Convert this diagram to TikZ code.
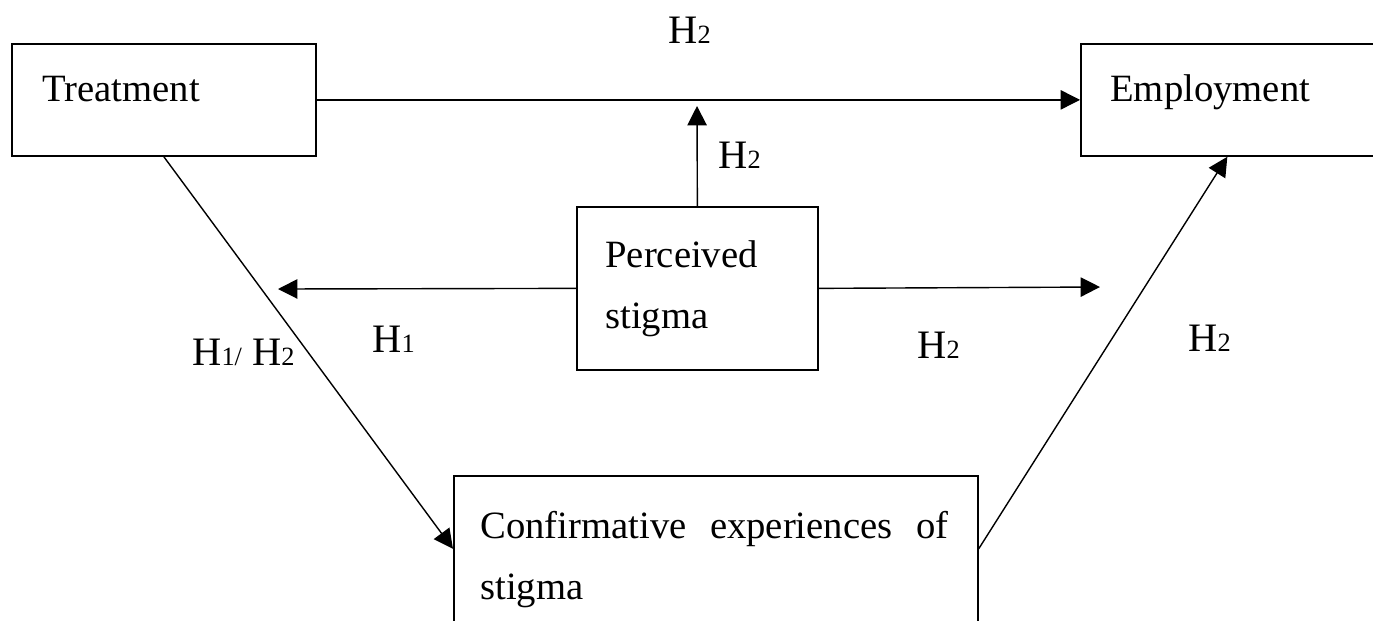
\documentclass[tikz,border=0pt]{standalone}
\usepackage{fontspec}
\setmainfont{Liberation Serif}
\usetikzlibrary{arrows.meta,positioning}
\newcommand{\hsub}[1]{{\fontsize{15}{15}\selectfont #1}}

\begin{document}
\begin{tikzpicture}[x=0.02cm,y=-0.02cm,
  box/.style={draw,line width=1pt,rectangle,anchor=north west,inner sep=0pt},
  boxtext/.style={anchor=base west,inner sep=0pt,font=\fontsize{22}{35}\selectfont,align=left},
  hyp/.style={anchor=base west,inner sep=0pt,font=\fontsize{23}{26}\selectfont},
  link/.style={line width=0.8pt,-{Triangle[length=11pt,width=11pt]}}]
\useasboundingbox (0,0) rectangle (1373,620);
\clip (0,0) rectangle (1373,620);

% boxes
\node[box,minimum width=6.08cm,minimum height=2.24cm] (treat) at (11,43) {};
\node[box,minimum width=5.86cm,minimum height=2.24cm] (emp) at (1080,43) {};
\node[box,minimum width=4.82cm,minimum height=3.26cm] (perc) at (576,206) {};
\node[box,minimum width=10.48cm,minimum height=2.92cm] (conf) at (453,475) {};

% box texts
\node[boxtext] (treattxt) at (42,101) {Treatment};
\node[boxtext] (emptxt) at (1110,101) {Employment};
\node[boxtext,text width=4cm] (perctxt) at (605,267) {Perceived\\[0pt]stigma};
\node[boxtext,text width=9.36cm] (conftxt) at (480,538) {Confirmative\hfill experiences\hfill of\\[0pt]stigma};

% free ends
\coordinate (uptip) at (697,106);
\coordinate (lefttip) at (278,289);
\coordinate (righttip) at (1100,287);

% connectors
\draw[link] (treat.east) -- (emp.west);
\draw[link] (perc.north) -- (uptip);
\draw[link] (perc.west) -- (lefttip);
\draw[link] (perc.east) -- (righttip);
\draw[link] (treat.south) -- (conf.west);
\draw[link] (conf.east) -- (emp.south);

% hypotheses
\node[hyp] (htop) at (668,43) {H\hsub{2}};
\node[hyp] (hup) at (718,168) {H\hsub{2}};
\node[hyp] (hleft) at (372,352) {H\hsub{1}};
\node[hyp] (hdiag) at (192,365) {H\hsub{1/} H\hsub{2}};
\node[hyp] (hright) at (917,358) {H\hsub{2}};
\node[hyp] (hemp) at (1188,351) {H\hsub{2}};
\end{tikzpicture}
\end{document}
